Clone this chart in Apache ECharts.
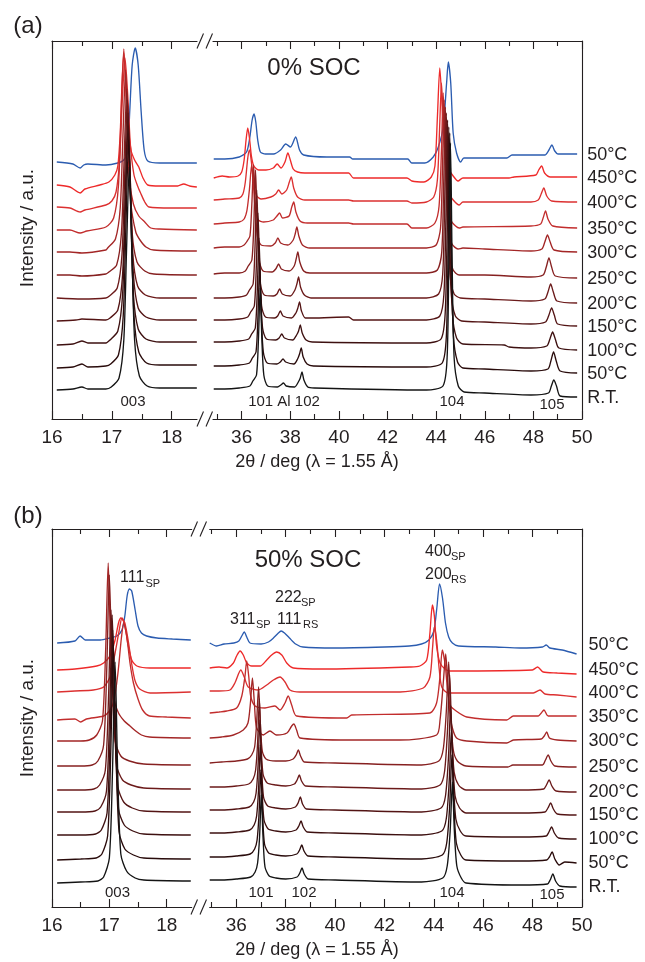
<!DOCTYPE html>
<html><head><meta charset="utf-8">
<script src="https://cdn.jsdelivr.net/npm/echarts@6/dist/echarts.min.js"></script>
<style>html,body{margin:0;padding:0;background:#fff}#c{width:645px;height:962px}</style>
</head><body><div id="c"></div>
<script>
// ---- data ----
const tempLabels = ['50°C','450°C','400°C','350°C','300°C','250°C','200°C','150°C','100°C','50°C','R.T.'];
const offsetsA = [259,241,219,195,171,145,121,99,77,53,30];
const offsetsB = [264,239,216,194,169,144,120,97,74,50,27];
const majorL = [16,17,18], minorL = [16.5,17.5];
const majorR = [36,38,40,42,44,46,48,50], minorR = [35,37,39,41,43,45,47,49];

const aLeft = [
[[16.08,-2],[16.35,-4],[16.47,-8],[16.53,-5],[16.6,-4],[16.9,-5],[17.1,-3],[17.2,0],[17.26,8],[17.3,50],[17.34,95],[17.39,112],[17.44,95],[17.49,48],[17.54,10],[17.6,-1],[17.8,-3],[18.42,-3]],
[[16.08,-7],[16.3,-9],[16.47,-15],[16.55,-11],[16.8,-7],[16.95,-4],[17.05,3],[17.1,12],[17.14,45],[17.17,95],[17.2,125],[17.23,100],[17.27,55],[17.32,28],[17.38,18],[17.45,11],[17.52,0],[17.6,-7],[17.8,-8],[18.1,-8],[18.2,-6],[18.3,-8],[18.42,-9]],
[[16.08,-7],[16.3,-8],[16.47,-12],[16.55,-10],[16.9,-5],[17.0,-1],[17.07,8],[17.13,40],[17.175,100],[17.22,142],[17.265,105],[17.31,55],[17.37,25],[17.43,14],[17.48,7],[17.55,-2],[17.62,-7],[18.0,-8],[18.42,-8]],
[[16.08,-6],[16.3,-6],[16.47,-9],[16.58,-7],[16.9,-3],[17.03,6],[17.11,38],[17.155,110],[17.2,175],[17.245,112],[17.29,46],[17.36,20],[17.45,8],[17.55,2],[17.65,-4],[17.8,-5],[18.42,-6]],
[[16.08,-4],[16.3,-4],[16.5,-5],[16.9,-2],[16.93,0],[17.06,9],[17.14,40],[17.185,112],[17.23,178],[17.275,112],[17.32,44],[17.4,16],[17.47,8],[17.57,1],[17.7,-2],[18.42,-3]],
[[16.08,-1],[16.3,-1],[16.5,-2],[16.9,0],[16.95,2],[17.08,9],[17.16,41],[17.205,115],[17.25,185],[17.295,115],[17.34,41],[17.42,12],[17.55,3],[17.7,0],[18.42,-1]],
[[16.08,0],[16.5,-1],[16.9,0],[16.96,2],[17.09,10],[17.17,44],[17.215,123],[17.26,198],[17.305,123],[17.35,44],[17.43,12],[17.56,3],[17.8,0],[18.42,0]],
[[16.08,-1],[16.4,0],[16.5,1],[16.9,0],[16.97,2],[17.1,10],[17.18,46],[17.225,128],[17.27,207],[17.315,128],[17.36,46],[17.44,12],[17.57,3],[17.8,0],[18.42,0]],
[[16.08,-3],[16.35,-2],[16.5,1],[16.6,-1],[16.9,-1],[16.97,2],[17.1,11],[17.18,48],[17.225,134],[17.27,216],[17.315,134],[17.36,48],[17.44,13],[17.57,3],[17.8,0],[18.42,0]],
[[16.08,-2],[16.35,-1],[16.5,2],[16.6,-1],[16.9,0],[16.98,2],[17.11,11],[17.19,50],[17.235,140],[17.28,226],[17.325,140],[17.37,50],[17.45,14],[17.58,3],[17.8,1],[18.42,1]],
[[16.08,-1],[16.35,0],[16.5,2],[16.6,0],[16.9,0],[16.99,2],[17.12,11],[17.2,49],[17.245,138],[17.29,222],[17.335,138],[17.38,49],[17.46,13],[17.59,3],[17.8,1],[18.42,1]]
];

const aRight = [
[[34.85,1],[35.3,1],[35.9,3],[36.2,8],[36.33,22],[36.43,40],[36.51,46],[36.58,38],[36.66,20],[36.77,8],[36.98,6],[37.31,6],[37.6,10],[37.81,16],[38.01,13],[38.22,23],[38.38,10],[38.55,5],[39.5,3],[40.44,3],[40.57,1],[42.83,1],[43.0,-3],[43.53,-3],[43.88,3],[44.09,13],[44.29,33],[44.43,77],[44.5,98],[44.6,77],[44.7,27],[44.84,7],[45.01,-2],[45.14,2],[46.91,2],[47.12,5],[48.47,5],[48.64,10],[48.76,15],[48.88,9],[49.01,6],[49.8,6]],
[[34.85,0],[35.2,2],[35.5,1],[35.85,2],[36.0,6],[36.1,18],[36.18,38],[36.25,50],[36.32,40],[36.4,22],[36.5,12],[36.7,8],[37.0,8],[37.3,10],[37.46,14],[37.62,10],[37.78,16],[37.9,25],[38.0,18],[38.12,9],[38.3,6],[38.6,5],[40.4,5],[40.6,0],[42.8,0],[43.0,-3],[43.5,-4],[43.8,1],[43.95,12],[44.05,60],[44.15,110],[44.25,70],[44.35,30],[44.5,10],[44.7,2],[44.9,-3],[45.1,0],[47.0,0],[47.2,1],[48.1,3],[48.22,8],[48.34,12],[48.46,5],[48.7,1],[49.8,1]],
[[34.85,0],[35.3,1],[35.9,2],[36.05,6],[36.15,18],[36.25,42],[36.32,50],[36.4,38],[36.5,15],[36.62,4],[36.8,1],[37.2,3],[37.4,6],[37.52,10],[37.65,6],[37.85,10],[37.96,18],[38.04,23],[38.14,12],[38.3,3],[38.6,0],[40.4,0],[40.6,-1],[42.8,-1],[43.0,-3],[43.6,-2],[43.9,3],[44.05,20],[44.14,70],[44.22,117],[44.3,75],[44.4,25],[44.52,7],[44.7,0],[44.95,-5],[45.1,-2],[47.9,-2],[48.2,0],[48.32,6],[48.43,12],[48.55,4],[48.75,-1],[49.8,-2]],
[[34.85,0],[35.3,1],[35.9,2],[36.1,5],[36.22,14],[36.32,35],[36.41,59],[36.48,40],[36.56,14],[36.68,4],[36.9,2],[37.3,4],[37.45,8],[37.56,11],[37.68,6],[37.95,8],[38.06,17],[38.14,22],[38.23,12],[38.4,3],[38.7,1],[40.4,1],[40.6,0],[42.8,0],[43.0,-4],[43.6,-4],[43.95,1],[44.12,18],[44.22,75],[44.29,131],[44.36,80],[44.46,22],[44.6,4],[44.8,-2],[44.95,-4],[45.1,-3],[47.9,-2],[48.3,0],[48.4,6],[48.5,13],[48.6,5],[48.8,-2],[49.8,-4]],
[[34.85,0],[35.3,1],[35.9,1],[36.1,3],[36.2,6],[36.34,12],[36.42,45],[36.49,83],[36.56,45],[36.64,12],[36.8,3],[37.2,2],[37.38,5],[37.49,10],[37.6,5],[37.9,3],[38.12,8],[38.2,14],[38.27,21],[38.35,12],[38.5,3],[38.8,0],[40.4,0],[43.6,0],[44.0,3],[44.18,20],[44.26,80],[44.33,148],[44.4,80],[44.48,20],[44.65,4],[44.9,-1],[45.1,0],[46.0,-1],[47.9,-3],[48.35,-1],[48.47,6],[48.58,13],[48.69,6],[48.85,-2],[49.8,-4]],
[[34.85,0],[35.3,1],[35.9,1],[36.15,3],[36.27,8],[36.42,14],[36.5,50],[36.57,104],[36.64,50],[36.72,14],[36.88,3],[37.25,2],[37.4,5],[37.52,10],[37.63,5],[37.95,3],[38.16,8],[38.24,15],[38.31,22],[38.39,12],[38.55,3],[38.8,1],[43.6,1],[44.05,4],[44.23,22],[44.31,90],[44.38,167],[44.45,90],[44.53,22],[44.7,4],[44.95,-1],[46.0,-1],[47.9,-3],[48.4,-1],[48.53,7],[48.64,16],[48.75,7],[48.9,-2],[49.8,-4]],
[[34.85,0],[35.3,0],[35.9,1],[36.2,3],[36.32,8],[36.47,14],[36.55,52],[36.62,108],[36.69,52],[36.77,14],[36.93,3],[37.3,2],[37.45,4],[37.56,9],[37.67,4],[38.0,2],[38.19,8],[38.27,14],[38.34,21],[38.42,11],[38.58,3],[38.85,0],[43.6,0],[44.1,4],[44.27,24],[44.35,95],[44.42,185],[44.49,95],[44.57,24],[44.74,4],[45.0,0],[46.0,-1],[47.9,-3],[48.47,-1],[48.6,6],[48.71,14],[48.82,6],[48.97,-3],[49.8,-5]],
[[34.85,0],[35.3,0],[35.9,1],[36.25,3],[36.37,8],[36.52,14],[36.6,52],[36.67,107],[36.74,52],[36.82,14],[36.98,3],[37.35,2],[37.48,4],[37.59,9],[37.7,4],[38.05,2],[38.23,7],[38.31,12],[38.38,18],[38.46,9],[38.62,2],[38.9,2],[40.4,3],[40.6,0],[43.6,0],[44.15,4],[44.32,26],[44.4,100],[44.47,200],[44.54,100],[44.62,26],[44.79,4],[45.05,-1],[46.0,-2],[47.9,-4],[48.5,-2],[48.64,5],[48.75,12],[48.86,5],[49.0,-4],[49.8,-6]],
[[34.85,0],[35.3,0],[35.9,1],[36.29,3],[36.41,8],[36.56,14],[36.64,50],[36.71,104],[36.78,50],[36.86,14],[37.02,3],[37.4,2],[37.54,4],[37.65,8],[37.76,4],[38.1,2],[38.26,7],[38.34,11],[38.41,17],[38.49,9],[38.65,2],[38.9,0],[43.6,-1],[44.2,3],[44.37,28],[44.45,108],[44.52,215],[44.59,108],[44.67,28],[44.84,4],[45.1,-2],[46.8,-3],[47.0,-5],[47.9,-6],[48.55,-4],[48.68,3],[48.79,10],[48.9,3],[49.05,-6],[49.8,-8]],
[[34.85,0],[35.3,0],[35.9,1],[36.32,3],[36.44,8],[36.59,14],[36.67,50],[36.74,103],[36.81,50],[36.89,14],[37.05,3],[37.45,2],[37.59,4],[37.7,7],[37.81,4],[38.15,2],[38.3,7],[38.38,12],[38.45,18],[38.53,9],[38.69,2],[38.95,0],[43.6,-1],[44.25,3],[44.42,30],[44.49,117],[44.56,233],[44.63,117],[44.71,30],[44.88,4],[45.1,-2],[46.0,-3],[47.9,-5],[48.6,-3],[48.72,5],[48.83,14],[48.94,5],[49.1,-5],[49.8,-7]],
[[34.85,0],[35.3,0],[35.9,1],[36.34,3],[36.46,8],[36.61,14],[36.69,50],[36.76,101],[36.83,50],[36.91,14],[37.07,3],[37.47,2],[37.61,4],[37.72,6],[37.83,3],[38.18,2],[38.33,7],[38.41,11],[38.48,17],[38.56,9],[38.72,2],[39.0,1],[43.6,-1],[44.28,3],[44.45,31],[44.52,123],[44.59,246],[44.66,123],[44.74,31],[44.91,3],[45.15,-3],[46.0,-4],[47.9,-6],[48.62,-4],[48.74,3],[48.84,9],[48.95,3],[49.1,-7],[49.8,-8]]
];

const bLeft = [
[[16.09,0],[16.4,2],[16.49,7],[16.58,3],[16.84,3],[17.01,5],[17.13,7],[17.22,13],[17.27,27],[17.31,47],[17.35,54],[17.39,52],[17.45,33],[17.5,17],[17.56,10],[17.65,7],[17.83,5],[18.1,4],[18.42,3]],
[[16.09,-2],[16.4,-1],[16.78,2],[16.9,5],[17.01,12],[17.1,28],[17.16,45],[17.2,50],[17.26,45],[17.32,25],[17.39,8],[17.48,2],[17.71,0],[18.42,0]],
[[16.09,-1],[16.4,0],[16.72,1],[16.9,4],[17.01,14],[17.1,38],[17.17,60],[17.22,73],[17.27,68],[17.33,50],[17.39,27],[17.45,10],[17.53,2],[17.71,-2],[18.42,-1]],
[[16.09,-7],[16.4,-6],[16.5,-9],[16.6,-6],[16.9,-3],[17.0,2],[17.08,12],[17.15,40],[17.21,75],[17.25,90],[17.3,78],[17.36,50],[17.42,30],[17.5,14],[17.58,3],[17.7,-3],[18.0,-4],[18.42,-5]],
[[16.09,-3],[16.5,-3],[16.65,-2],[16.78,3],[16.88,17],[16.935,87],[16.98,175],[17.025,87],[17.08,40],[17.16,25],[17.26,17],[17.36,12],[17.46,7],[17.56,3],[17.7,1],[18.42,0]],
[[16.09,-3],[16.5,-3],[16.7,-2],[16.8,2],[16.9,18],[16.955,94],[17.0,188],[17.045,94],[17.1,22],[17.2,7],[17.35,2],[17.6,-1],[18.42,-2]],
[[16.09,-3],[16.5,-3],[16.73,-2],[16.83,2],[16.93,17],[16.985,88],[17.03,177],[17.075,88],[17.13,21],[17.23,7],[17.38,2],[17.6,-1],[18.42,-2]],
[[16.09,-2],[16.5,-2],[16.75,-1],[16.85,3],[16.95,19],[17.005,97],[17.05,195],[17.095,97],[17.15,23],[17.25,8],[17.4,2],[17.6,-1],[18.42,-2]],
[[16.09,-2],[16.5,-2],[16.76,-1],[16.86,3],[16.96,20],[17.015,101],[17.06,203],[17.105,101],[17.16,24],[17.26,8],[17.41,2],[17.6,-1],[18.42,-2]],
[[16.09,-3],[16.5,-2],[16.77,-1],[16.87,3],[16.97,21],[17.025,106],[17.07,212],[17.115,106],[17.17,25],[17.27,8],[17.42,2],[17.6,-1],[18.42,-2]],
[[16.09,-3],[16.5,-2],[16.8,-1],[16.9,3],[17.0,22],[17.055,109],[17.1,218],[17.145,109],[17.2,26],[17.3,9],[17.45,2],[17.6,0],[18.42,-1]]
];

const bRight = [
[[34.92,0],[35.2,-3],[35.5,-1],[35.9,0],[36.1,2],[36.22,7],[36.32,11],[36.42,6],[36.55,0],[37.0,-1],[37.3,1],[37.5,5],[37.7,10],[37.81,12],[37.95,10],[38.15,5],[38.4,-1],[38.7,-4],[40.0,-5],[42.0,-4],[43.0,-3],[43.5,-1],[43.8,3],[44.0,12],[44.12,35],[44.23,59],[44.35,45],[44.47,20],[44.6,6],[44.75,0],[45.0,-3],[46.5,-4],[47.5,-5],[48.4,-4],[48.55,-2],[48.7,-5],[49.2,-7],[49.78,-11]],
[[34.92,0],[35.3,1],[35.61,0],[35.88,5],[36.01,12],[36.15,17],[36.28,13],[36.42,5],[36.62,2],[36.96,2],[37.23,8],[37.43,13],[37.63,16],[37.84,13],[38.04,5],[38.31,0],[39.5,-1],[43.03,1],[43.43,2],[43.71,8],[43.84,35],[43.94,63],[44.02,52],[44.11,22],[44.25,5],[44.45,-1],[44.65,-3],[47.99,-2],[48.2,1],[48.43,-4],[49.0,-5],[49.78,-6]],
[[34.92,0],[35.3,0],[35.74,1],[35.94,8],[36.18,21],[36.32,14],[36.48,4],[36.89,1],[37.23,6],[37.5,11],[37.77,14],[37.97,9],[38.17,1],[38.58,-1],[42.63,-1],[43.57,3],[43.84,14],[43.95,44],[44.02,64],[44.11,51],[44.22,21],[44.32,4],[44.58,-2],[48.03,-2],[48.3,1],[48.5,-3],[49.0,-4],[49.78,-6]],
[[34.92,0],[35.3,1],[35.61,2],[36.01,5],[36.22,17],[36.35,37],[36.42,52],[36.5,37],[36.58,17],[36.76,7],[37.16,5],[37.56,7],[37.77,3],[37.97,10],[38.1,17],[38.24,8],[38.44,-3],[40.47,-5],[40.67,-2],[43.84,0],[44.11,10],[44.25,37],[44.34,63],[44.45,50],[44.54,27],[44.65,8],[44.85,3],[45.33,-4],[46.95,-7],[47.22,-3],[48.23,-3],[48.35,0],[48.46,3],[48.63,-3],[49.78,-3]],
[[34.92,0],[35.4,1],[35.88,3],[36.28,8],[36.47,15],[36.57,35],[36.65,60],[36.73,35],[36.82,10],[37.09,3],[37.36,7],[37.63,3],[38.05,5],[38.24,12],[38.33,14],[38.44,8],[38.58,0],[40.6,-2],[42.63,-2],[44.11,3],[44.25,18],[44.38,55],[44.48,84],[44.56,55],[44.65,25],[44.75,10],[44.92,0],[45.33,-3],[46.95,-5],[47.22,-2],[48.35,-1],[48.47,2],[48.57,6],[48.68,0],[49.0,-2],[49.78,-3]],
[[34.92,0],[35.4,1],[36.0,2],[36.45,4],[36.62,8],[36.74,16],[36.82,40],[36.9,76],[36.97,40],[37.05,12],[37.2,4],[37.6,2],[38.0,2],[38.3,4],[38.42,8],[38.51,13],[38.6,7],[38.75,1],[40.0,0],[43.5,-2],[44.2,2],[44.38,14],[44.5,50],[44.6,101],[44.68,50],[44.78,14],[44.95,2],[45.3,-3],[47.0,-4],[47.2,-2],[48.4,-2],[48.52,3],[48.63,8],[48.74,2],[48.9,-3],[49.78,-4]],
[[34.92,0],[35.4,0],[36.0,1],[36.5,3],[36.68,8],[36.78,17],[36.86,44],[36.93,88],[37.0,44],[37.08,13],[37.25,4],[37.6,2],[38.0,1],[38.35,3],[38.46,7],[38.55,12],[38.64,6],[38.8,1],[40.0,0],[43.5,-2],[44.25,2],[44.43,15],[44.55,56],[44.64,112],[44.72,56],[44.82,15],[45.0,2],[45.3,-3],[47.5,-3],[48.45,-2],[48.56,2],[48.67,7],[48.78,1],[48.95,-4],[49.78,-5]],
[[34.92,0],[35.4,0],[36.0,1],[36.52,3],[36.7,8],[36.8,17],[36.88,45],[36.95,90],[37.02,45],[37.1,13],[37.27,4],[37.6,2],[38.0,1],[38.39,3],[38.5,7],[38.59,13],[38.68,6],[38.84,1],[40.0,0],[43.5,-2],[44.29,2],[44.47,14],[44.59,52],[44.68,105],[44.76,52],[44.86,14],[45.04,2],[45.3,-3],[47.5,-3],[48.5,-2],[48.62,2],[48.73,7],[48.84,1],[49.0,-4],[49.78,-5]],
[[34.92,0],[35.4,0],[36.0,1],[36.54,3],[36.72,8],[36.82,17],[36.9,44],[36.97,88],[37.04,44],[37.12,13],[37.29,4],[37.6,2],[38.0,1],[38.42,3],[38.53,7],[38.62,12],[38.71,6],[38.87,1],[40.0,0],[43.5,-2],[44.32,2],[44.5,14],[44.62,51],[44.71,103],[44.79,51],[44.89,14],[45.07,2],[45.3,-3],[47.5,-4],[48.55,-3],[48.66,1],[48.77,6],[48.88,0],[49.05,-5],[49.78,-6]],
[[34.92,0],[35.4,0],[36.0,1],[36.56,3],[36.74,8],[36.84,17],[36.92,44],[36.99,87],[37.06,44],[37.14,13],[37.31,4],[37.6,2],[38.0,1],[38.45,3],[38.56,7],[38.65,12],[38.74,6],[38.9,1],[40.0,0],[43.5,-2],[44.34,2],[44.52,14],[44.64,51],[44.73,102],[44.81,51],[44.91,14],[45.09,2],[45.3,-3],[47.5,-4],[48.57,-3],[48.68,0],[48.79,5],[48.9,-2],[49.08,-8],[49.3,-5],[49.78,-6]],
[[34.92,0],[35.4,0],[36.0,1],[36.58,3],[36.76,8],[36.86,17],[36.94,43],[37.01,85],[37.08,43],[37.16,13],[37.33,4],[37.6,2],[38.0,1],[38.46,3],[38.57,7],[38.66,12],[38.75,6],[38.91,1],[40.0,0],[43.5,-2],[44.36,2],[44.54,14],[44.66,49],[44.75,98],[44.83,49],[44.93,14],[45.11,2],[45.3,-3],[47.5,-5],[48.6,-4],[48.71,0],[48.82,6],[48.93,-1],[49.1,-6],[49.78,-7]]
];

// ---- styles ----
const curveColors = ['#2b5cb0','#ee2a2a','#dc3030','#c22d2d','#a32626','#862020','#6b1a1a','#531414','#3d1010','#290b0b','#141414'];
const labelShiftA = [1,1,1,1,1,1,1,1,1,1,1];
const labelShiftB = [-9,-4,-4,1,0,0,0,0,0,0,0];
const FF = '"Liberation Sans", Arial, Helvetica, sans-serif';
const INK = '#231f20';
const LS = {color: INK, width: 1.1};

const grids = [
  {left: 52, top: 41, width: 145, height: 378},
  {left: 213, top: 41, width: 369, height: 378},
  {left: 52, top: 529, width: 139.7, height: 378},
  {left: 209.7, top: 529, width: 372.3, height: 378}
].map(g => Object.assign(g, {containLabel: false, outerBoundsMode: 'none'}));
const ranges = [[16, 18.4227], [34.82, 50], [16, 18.436], [34.92, 50]];

const xAxes = [];
const yAxes = [];
ranges.forEach((r, gi) => {
  const majors = gi % 2 ? majorR : majorL;
  const minors = gi % 2 ? minorR : minorL;
  const base = {type: 'value', gridIndex: gi, min: r[0], max: r[1], splitLine: {show: false}};
  xAxes.push(Object.assign({}, base, {position: 'bottom',
    axisLine: {show: true, lineStyle: LS},
    axisTick: {show: true, inside: true, length: 8, lineStyle: LS, customValues: majors},
    axisLabel: {show: true, customValues: majors, margin: 9, fontSize: 19, color: INK, fontFamily: FF}}));
  xAxes.push(Object.assign({}, base, {position: 'bottom',
    axisLine: {show: false},
    axisTick: {show: true, inside: true, length: 5, lineStyle: LS, customValues: minors},
    axisLabel: {show: false}}));
  xAxes.push(Object.assign({}, base, {position: 'top',
    axisLine: {show: true, lineStyle: LS},
    axisTick: {show: true, inside: true, length: 8, lineStyle: LS, customValues: majors},
    axisLabel: {show: false}}));
  xAxes.push(Object.assign({}, base, {position: 'top',
    axisLine: {show: false},
    axisTick: {show: true, inside: true, length: 5, lineStyle: LS, customValues: minors},
    axisLabel: {show: false}}));
  yAxes.push({type: 'value', gridIndex: gi, min: 0, max: 378, position: gi % 2 ? 'right' : 'left',
    axisLine: {show: true, lineStyle: LS}, axisTick: {show: false}, axisLabel: {show: false}, splitLine: {show: false}});
});

const series = [];
function addCurves(arr, offs, gi, withLabel, shifts, dist) {
  arr.forEach((pts, i) => {
    const s = {
      type: 'line', xAxisIndex: gi * 4, yAxisIndex: gi,
      data: pts.map(p => [p[0], p[1] + offs[i]]),
      symbol: 'none', showSymbol: false, smooth: 0.25, silent: true,
      lineStyle: {color: curveColors[i], width: 1.35},
      itemStyle: {color: curveColors[i]}
    };
    if (withLabel) {
      s.endLabel = {show: true, formatter: tempLabels[i], distance: dist, offset: [0, shifts[i]],
        color: INK, fontSize: 18, fontFamily: FF};
    }
    series.push(s);
  });
}
addCurves(aLeft, offsetsA, 0, false);
addCurves(aRight, offsetsA, 1, true, labelShiftA, 10);
addCurves(bLeft, offsetsB, 2, false);
addCurves(bRight, offsetsB, 3, true, labelShiftB, 12);

function txt(text, x, y, size, align, extra) {
  return Object.assign({type: 'text', x: x, y: y, silent: true,
    style: {text: text, fill: INK, fontSize: size, fontFamily: FF,
      textAlign: align || 'center', align: align || 'center',
      textVerticalAlign: 'middle', verticalAlign: 'middle'}}, extra || {});
}
function slash(x, y) {
  return {type: 'line', silent: true, shape: {x1: x, y1: y + 7.5, x2: x + 6.5, y2: y - 7.5},
    style: {stroke: INK, lineWidth: 1.1}};
}
const graphics = [
  txt('(a)', 28, 26, 24), txt('(b)', 28, 516, 24),
  txt('0% SOC', 314, 68, 24), txt('50% SOC', 308, 560, 24),
  txt('Intensity / a.u.', 28, 228, 19, 'center', {rotation: Math.PI / 2}),
  txt('Intensity / a.u.', 28, 718, 19, 'center', {rotation: Math.PI / 2}),
  txt('2\u03b8 / deg (\u03bb = 1.55 \u00c5)', 317, 462, 18),
  txt('2\u03b8 / deg (\u03bb = 1.55 \u00c5)', 317, 950, 18),
  // panel a peak labels
  txt('003', 133, 402, 15), txt('101 Al 102', 284, 402, 15), txt('104', 452, 402, 15), txt('105', 552, 405, 15),
  // panel b peak labels
  txt('003', 117.5, 893, 15), txt('101', 261, 893, 15), txt('102', 304, 893, 15), txt('104', 452, 893, 15), txt('105', 552, 895, 15),
  txt('111', 120, 578, 16, 'left'), txt('SP', 145.5, 583.5, 11, 'left'),
  txt('311', 230, 620, 16, 'left'), txt('SP', 256, 625, 11, 'left'),
  txt('222', 275, 598, 16, 'left'), txt('SP', 301, 603, 11, 'left'),
  txt('111', 277, 620, 16, 'left'), txt('RS', 303, 625, 11, 'left'),
  txt('400', 425, 552, 16, 'left'), txt('SP', 451, 557, 11, 'left'),
  txt('200', 425, 575, 16, 'left'), txt('RS', 451, 580, 11, 'left'),
  // axis break marks
  slash(197, 41), slash(206, 41), slash(197, 419), slash(206, 419),
  slash(191, 529), slash(200, 529), slash(191, 907), slash(200, 907)
];

const chart = echarts.init(document.getElementById('c'), null, {renderer: 'canvas'});
chart.setOption({
  animation: false,
  backgroundColor: '#fff',
  textStyle: {fontFamily: FF},
  grid: grids,
  xAxis: xAxes,
  yAxis: yAxes,
  series: series,
  graphic: graphics
});
</script>
</body></html>
